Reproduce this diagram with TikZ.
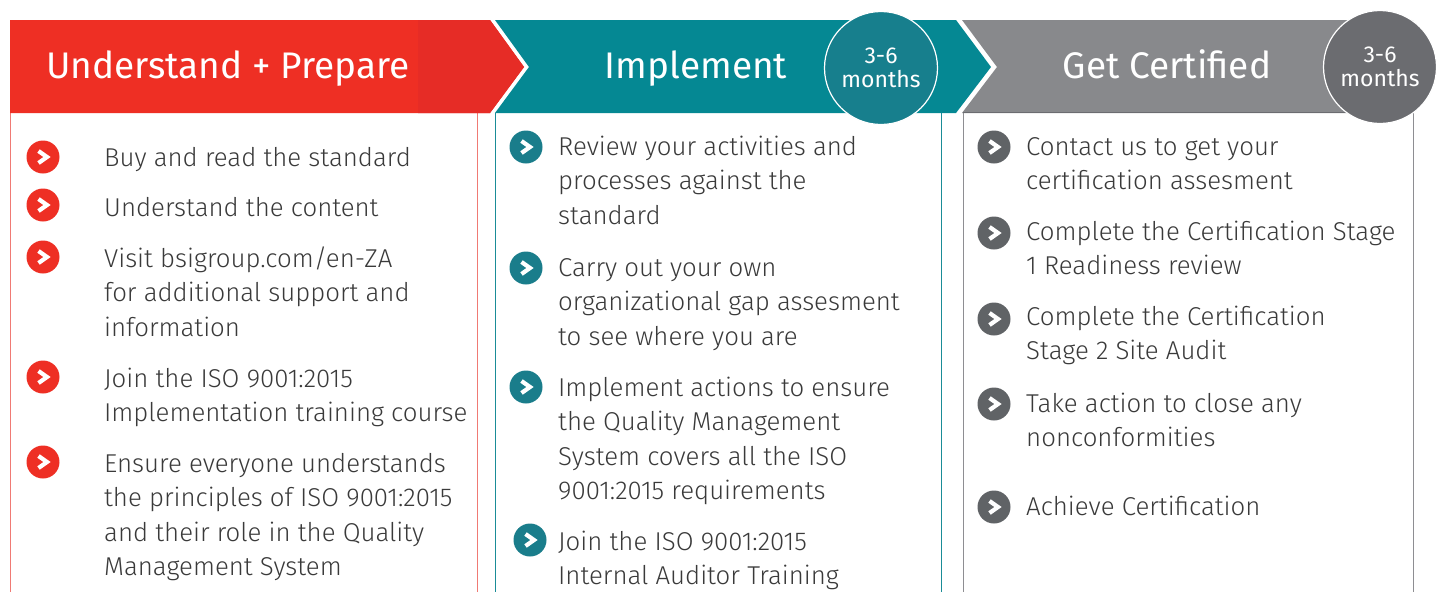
\documentclass[tikz,border=0pt]{standalone}
\usepackage{fontspec}
\setmainfont{Fira Sans}[UprightFont={* Light}]
\newfontfamily\headfont{Fira Sans}
\definecolor{redc}{HTML}{EE2F24}
\definecolor{redd}{HTML}{E62C26}
\definecolor{redline}{HTML}{F07A74}
\definecolor{tealc}{HTML}{058893}
\definecolor{tealcirc}{HTML}{177F8D}
\definecolor{tealbul}{HTML}{1A7D8B}
\definecolor{tealline}{HTML}{1A8C97}
\definecolor{grayc}{HTML}{88898C}
\definecolor{graycirc}{HTML}{6B6C70}
\definecolor{graybul}{HTML}{606366}
\definecolor{grayline}{HTML}{8E8E92}
\definecolor{txtc}{HTML}{3A3A3A}
\tikzset{
  bul/.style={circle, fill=#1, minimum size=33pt, inner sep=0pt,
    path picture={\draw[white, line width=4.2pt, line join=miter]
      ([xshift=-4.5pt,yshift=6pt]path picture bounding box.center) -- ++(8.5pt,-6pt) -- ++(-8.5pt,-6pt);}},
  txt/.style={anchor=base west, align=left, inner sep=0pt, text=txtc,
    font=\fontsize{25.8}{34.6}\selectfont},
  headtxt/.style={anchor=base, inner sep=0pt, text=white,
    font=\headfont\fontsize{37}{40}\selectfont},
  months/.style={circle, fill=#1, draw=white, line width=1.2pt, minimum size=113pt,
    inner sep=0pt, align=center, text=white, font=\headfont\fontsize{23}{23.5}\selectfont},
  boxline/.style={draw=#1, line width=1pt}
}
\begin{document}
\begin{tikzpicture}[x=1pt,y=-1pt]
\useasboundingbox (0,0) rectangle (1440,592);
\fill[white] (0,0) rectangle (1440,592);
% box borders
\draw[boxline=redline] (10.5,113) -- (10.5,592);
\draw[boxline=redline] (477,113) -- (477,592);
\draw[boxline=tealline] (495,113) -- (495,592);
\draw[boxline=tealline] (941,113) -- (941,592);
\draw[boxline=grayline] (963,113) -- (963,592);
\draw[boxline=grayline] (1413,113) -- (1413,592);
% headers
\fill[redc] (10,20) -- (490,20) -- (524,67) -- (490,113) -- (10,113) -- cycle;
\fill[redd] (418,20) -- (490,20) -- (524,67) -- (490,113) -- (418,113) -- cycle;
\fill[tealc] (495,20) -- (956,20) -- (991,67) -- (956,113) -- (495,113) -- (529,67) -- cycle;
\fill[grayc] (962,20) -- (1413,20) -- (1413,113) -- (962,113) -- (997,67) -- cycle;
\draw[graycirc, line width=1.5pt] (963,112.5) -- (1413,112.5);
\node[headtxt] (h1) at (228,78) {Understand + Prepare};
\node[headtxt] (h2) at (696,78) {Implement};
\node[headtxt] (h3) at (1167,78) {Get Certified};
\node[months=tealcirc] (m2) at (881,68) {3-6\\months};
\node[months=graycirc] (m3) at (1380,67) {3-6\\months};
% column 1 (anchor = baseline of last line)
\node[bul=redc] (a1) at (43,157) {};
\node[bul=redc] (a2) at (43,205) {};
\node[bul=redc] (a3) at (43,257) {};
\node[bul=redc] (a4) at (43,377) {};
\node[bul=redc] (a5) at (43,462) {};
\node[txt] (ta1) at (104,166) {Buy and read the standard};
\node[txt] (ta2) at (104,216) {Understand the content};
\node[txt] (ta3) at (104,336.2) {Visit bsigroup.com/en-ZA\\for additional support and\\information};
\node[txt] (ta4) at (104,421.6) {Join the ISO 9001:2015\\Implementation training course};
\node[txt] (ta5) at (104,575.8) {Ensure everyone understands\\the principles of ISO 9001:2015\\and their role in the Quality\\Management System};
% column 2
\node[bul=tealbul] (b1) at (526,147) {};
\node[bul=tealbul] (b2) at (526,268) {};
\node[bul=tealbul] (b3) at (526,387) {};
\node[bul=tealbul] (b4) at (530,540) {};
\node[txt] (tb1) at (558,224.2) {Review your activities and\\processes against the\\standard};
\node[txt] (tb2) at (558,345.2) {Carry out your own\\organizational gap assesment\\to see where you are};
\node[txt] (tb3) at (558,499.8) {Implement actions to ensure\\the Quality Management\\System covers all the ISO\\9001:2015 requirements};
\node[txt] (tb4) at (558,584.6) {Join the ISO 9001:2015\\Internal Auditor Training};
% column 3
\node[bul=graybul] (c1) at (994,147) {};
\node[bul=graybul] (c2) at (994,233) {};
\node[bul=graybul] (c3) at (994,319) {};
\node[bul=graybul] (c4) at (994,404) {};
\node[bul=graybul] (c5) at (994,507) {};
\node[txt] (tc1) at (1026,189.6) {Contact us to get your\\certification assesment};
\node[txt] (tc2) at (1026,274.6) {Complete the Certification Stage\\1 Readiness review};
\node[txt] (tc3) at (1026,359.6) {Complete the Certification\\Stage 2 Site Audit};
\node[txt] (tc4) at (1026,446.6) {Take action to close any\\nonconformities};
\node[txt] (tc5) at (1026,515) {Achieve Certification};
\end{tikzpicture}
\end{document}
